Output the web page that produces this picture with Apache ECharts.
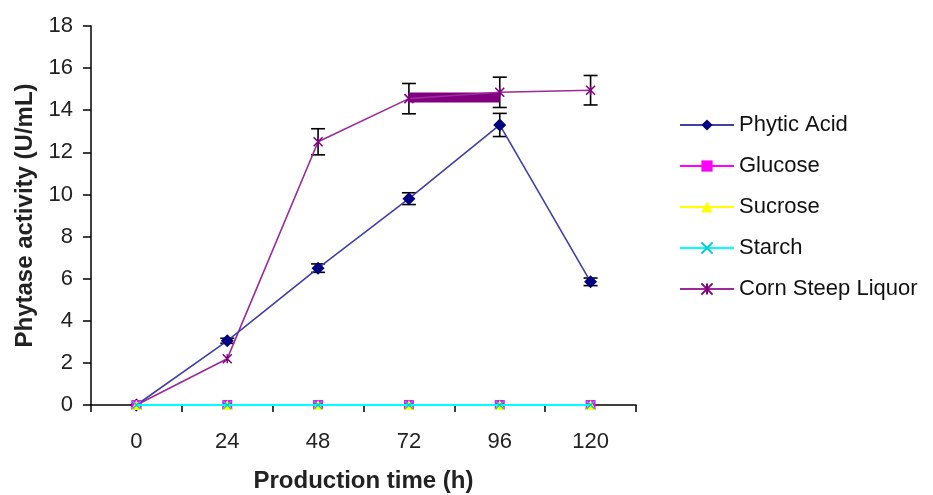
<!DOCTYPE html>
<html><head><meta charset="utf-8">
<script src="https://cdn.jsdelivr.net/npm/echarts@6/dist/echarts.min.js"></script>
<style>html,body{margin:0;padding:0;background:#fff}#c{width:933px;height:495px}</style>
</head><body><div id="c"></div>
<script>
const categories = ['0','24','48','72','96','120'];
const phytic = [0, 3.05, 6.5, 9.8, 13.3, 5.85];
const phyticErr = [0, 0.12, 0.2, 0.28, 0.55, 0.18];
const glucose = [0, 0, 0, 0, 0, 0];
const sucrose = [0, 0, 0, 0, 0, 0];
const starch = [0, 0, 0, 0, 0, 0];
const csl = [0, 2.2, 12.5, 14.55, 14.85, 14.95];
const cslErr = [0, 0.08, 0.62, 0.72, 0.72, 0.7];
const cslBand = [null, null, null, 14.6, 14.6, null];
const yTicks = [0,2,4,6,8,10,12,14,16,18];

const xPath = 'path://M0,0 L10,10 M10,0 L0,10';
const starPath = 'path://M0,0 L10,10 M10,0 L0,10 M5,0 L5,10';

function errSeries(vals, errs, z) {
  const data = vals.map((v, i) => [i, v, errs[i]]).filter(d => d[2] > 0.1);
  return {
    type: 'custom', z: z, silent: true,
    data: data,
    renderItem: function (params, api) {
      const x = api.value(0), y = api.value(1), e = api.value(2);
      const top = api.coord([x, y + e]);
      const bot = api.coord([x, y - e]);
      const w = 7;
      const st = {stroke: '#000', lineWidth: 1.6};
      return {type: 'group', children: [
        {type: 'line', shape: {x1: top[0], y1: top[1], x2: bot[0], y2: bot[1]}, style: st},
        {type: 'line', shape: {x1: top[0]-w, y1: top[1], x2: top[0]+w, y2: top[1]}, style: st},
        {type: 'line', shape: {x1: bot[0]-w, y1: bot[1], x2: bot[0]+w, y2: bot[1]}, style: st}
      ]};
    }
  };
}

const chart = echarts.init(document.getElementById('c'));
const font = 'Liberation Sans, Arial, sans-serif';
chart.setOption({
  animation: false,
  grid: {left: 91, top: 26, right: 297, bottom: 90, containLabel: false, outerBoundsMode: 'none'},
  legend: {
    orient: 'vertical', left: 674, top: 109, itemGap: 19, itemWidth: 54, itemHeight: 14,
    textStyle: {fontFamily: font, fontSize: 22, color: '#111'},
    data: ['Phytic Acid', 'Glucose', 'Sucrose', 'Starch', 'Corn Steep Liquor']
  },
  xAxis: {
    type: 'category', data: categories, boundaryGap: true,
    name: 'Production time (h)', nameLocation: 'middle', nameGap: 64,
    nameTextStyle: {fontFamily: font, fontSize: 24, fontWeight: 'bold', color: '#222'},
    axisLine: {lineStyle: {color: '#000', width: 1.5}},
    axisTick: {show: true, inside: false, length: 7, lineStyle: {color: '#000', width: 1.5}},
    axisLabel: {fontFamily: font, fontSize: 22, color: '#222', margin: 26},
    splitLine: {show: false}
  },
  yAxis: {
    type: 'value', min: 0, max: 18, interval: 2,
    name: 'Phytase activity (U/mL)', nameLocation: 'middle', nameGap: 53,
    nameTextStyle: {fontFamily: font, fontSize: 24, fontWeight: 'bold', color: '#222'},
    axisLine: {show: true, lineStyle: {color: '#000', width: 1.5}},
    axisTick: {show: true, inside: false, length: 8, lineStyle: {color: '#000', width: 1.5}},
    axisLabel: {fontFamily: font, fontSize: 22, color: '#222', margin: 18,
      formatter: v => yTicks.includes(v) ? String(v) : ''},
    splitLine: {show: false}
  },
  series: [
    errSeries(phytic, phyticErr, 1),
    errSeries(csl, cslErr, 1),
    {name: 'Corn Steep Liquor', type: 'line', data: csl, z: 3,
      symbol: starPath, symbolSize: 9,
      lineStyle: {color: '#9b2a9b', width: 1.6},
      itemStyle: {color: '#800080', borderColor: '#800080', borderWidth: 1.5}},
    {name: 'band', type: 'line', data: cslBand, z: 2, symbol: 'none',
      lineStyle: {color: '#800080', width: 10, cap: 'butt'}, silent: true},
    {name: 'Phytic Acid', type: 'line', data: phytic, z: 4,
      symbol: 'diamond', symbolSize: 13,
      lineStyle: {color: '#4040a8', width: 1.6},
      itemStyle: {color: '#000080'}},
    {name: 'Glucose', type: 'line', data: glucose, z: 5,
      symbol: 'rect', symbolSize: 10,
      lineStyle: {color: '#ff00ff', width: 1.6},
      itemStyle: {color: '#ff00ff'}},
    {name: 'Sucrose', type: 'line', data: sucrose, z: 6,
      symbol: 'triangle', symbolSize: 10,
      lineStyle: {color: '#ffff00', width: 1.6},
      itemStyle: {color: '#ffff00'}},
    {name: 'Starch', type: 'line', data: starch, z: 7,
      symbol: xPath, symbolSize: 8,
      lineStyle: {color: '#00ffff', width: 2},
      itemStyle: {color: '#00ffff', borderColor: '#00cccc', borderWidth: 1.5}}
  ]
});
</script></body></html>
